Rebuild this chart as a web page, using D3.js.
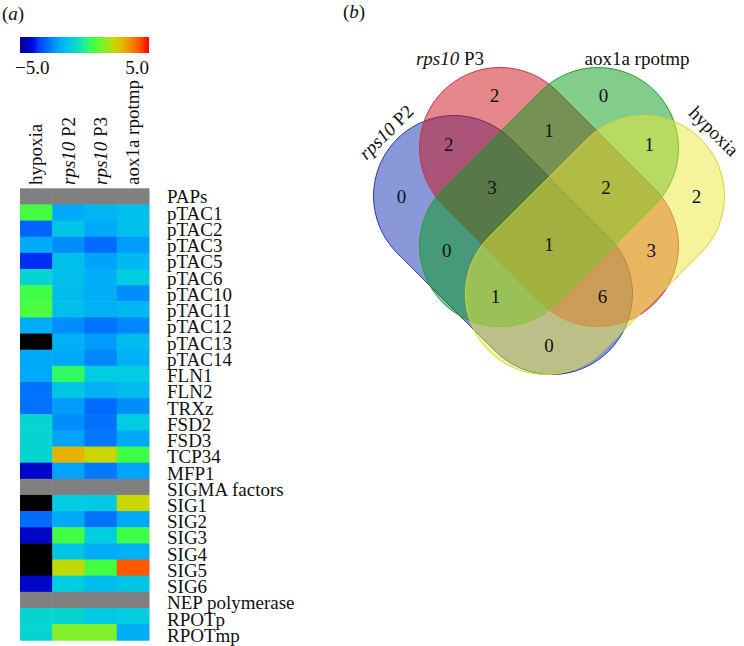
<!DOCTYPE html>
<html><head><meta charset="utf-8">
<script src="https://cdn.jsdelivr.net/npm/d3@7"></script>
<style>
body{margin:0;background:#fff;}
text{font-family:"Liberation Serif","Times New Roman",serif;fill:#111;}
</style>
</head><body>
<script>
// ---------------- DATA ----------------
const conditions = ["hypoxia", "rps10 P2", "rps10 P3", "aox1a rpotmp"];
const genes = ["PAPs","pTAC1","pTAC2","pTAC3","pTAC5","pTAC6","pTAC10","pTAC11","pTAC12","pTAC13","pTAC14",
  "FLN1","FLN2","TRXz","FSD2","FSD3","TCP34","MFP1","SIGMA factors","SIG1","SIG2","SIG3","SIG4","SIG5","SIG6",
  "NEP polymerase","RPOTp","RPOTmp"];
const headerRows = ["PAPs","SIGMA factors","NEP polymerase"];
// log2 fold changes (null = group header row, NaN = no data)
const hypoxia = [null, 0.7,-3.0,-2.0,-3.7,-0.8, 0.6, 0.8,-1.9, NaN,-2.0,-2.0,-2.8,-2.8,-0.8,-0.8,-0.8,-4.3, null, NaN,-2.9,-4.3, NaN, NaN,-4.3, null,-0.8,-0.8];
const rps10P2 = [null,-2.0,-1.2,-2.4,-1.4,-1.4,-1.5,-1.4,-2.4,-1.8,-2.0, 0.4,-1.2,-2.2,-2.4,-2.1, 3.0,-2.1, null,-1.0,-2.0, 0.7,-1.2, 2.2,-1.0, null,-0.8, 1.5];
const rps10P3 = [null,-1.7,-2.0,-2.9,-2.1,-1.9,-1.9,-1.8,-2.8,-2.2,-2.5,-1.0,-1.8,-2.9,-2.8,-2.7, 2.3,-2.7, null,-1.1,-2.8,-1.0,-1.9, 0.7,-1.5, null,-1.1, 1.5];
const aox1aRpotmp = [null,-1.4,-1.4,-2.2,-1.6,-1.0,-2.4,-1.6,-2.5,-1.5,-1.8,-1.0,-1.5,-2.4,-1.0,-2.0, 0.6,-2.1, null, 2.3,-2.0, 0.6,-1.8, 4.2,-1.2, null,-1.0,-1.9];
const series = [hypoxia, rps10P2, rps10P3, aox1aRpotmp];
const colorDomain = [-5, 5];
const colorbarTicks = ["\u22125.0", "5.0"];

// Venn: sets A..D and counts per exclusive region
const vennSets = ["rps10 P2", "rps10 P3", "aox1a rpotmp", "hypoxia"];
const vennRegions = ["A","B","C","D","AB","BC","CD","AC","BD","AD","ABC","BCD","ACD","ABD","ABCD"];
const vennCounts  = [ 0,  2,  0,  2,  2,   1,   1,   0,   3,   0,   3,    2,    1,    6,    1 ];

// ---------------- STYLE / LAYOUT ----------------
const W = 744, H = 646;
const FONT = 19;
const rampStops = [-5,-4,-3.5,-3,-2,-1,0,0.6,1.5,2.3,3,4.2,5];
const rampColors = ["#00008c","#0008e0","#0046ff","#0064ff","#00aafa","#00cde0","#1ef096","#3cff46","#82f028","#c8d700","#e6b400","#ff5a00","#ff0000"];
const color = d3.scaleLinear().domain(rampStops).range(rampColors).clamp(true);

const svg = d3.select("body").append("svg").attr("width", W).attr("height", H)
  .style("background", "#fff");

function addLabel(sel, label) {
  const m = label.match(/^(rps10)(.*)$/);
  if (m) {
    sel.append("tspan").style("font-style", "italic").text(m[1]);
    sel.append("tspan").text(m[2]);
  } else sel.text(label);
}

// panel letters
svg.append("text").attr("x", 2).attr("y", 20).style("font-size", FONT + "px")
  .call(t => { t.append("tspan").text("("); t.append("tspan").style("font-style","italic").text("a"); t.append("tspan").text(")"); });
svg.append("text").attr("x", 343).attr("y", 18).style("font-size", FONT + "px")
  .call(t => { t.append("tspan").text("("); t.append("tspan").style("font-style","italic").text("b"); t.append("tspan").text(")"); });

// ---------------- HEATMAP ----------------
const x = d3.scaleBand().domain(conditions).range([20, 149]);
const y = d3.scaleBand().domain(genes).range([188.3, 188.3 + 28 * 16.14]);
const yLab = d3.scaleBand().domain(genes).range([188.3, 188.3 + 28 * 16.24]);

// colorbar
const defs = svg.append("defs");
const grad = defs.append("linearGradient").attr("id", "cbar");
rampStops.forEach((s, i) => grad.append("stop")
  .attr("offset", ((s - colorDomain[0]) / (colorDomain[1] - colorDomain[0]) * 100) + "%")
  .attr("stop-color", rampColors[i]));
const cbx = d3.scaleLinear().domain(colorDomain).range([20, 149]);
svg.append("rect").attr("x", cbx(colorDomain[0])).attr("y", 37)
  .attr("width", cbx(colorDomain[1]) - cbx(colorDomain[0])).attr("height", 16)
  .attr("fill", "url(#cbar)");
svg.append("text").attr("x", cbx(colorDomain[0]) - 5).attr("y", 74).style("font-size", FONT + "px").text(colorbarTicks[0]);
svg.append("text").attr("x", cbx(colorDomain[1])).attr("y", 74).attr("text-anchor", "end").style("font-size", FONT + "px").text(colorbarTicks[1]);

// column labels
conditions.forEach(c => {
  const t = svg.append("text")
    .attr("transform", `translate(${x(c) + x.bandwidth() / 2},185) rotate(-90)`)
    .attr("dy", "0.33em").style("font-size", FONT + "px");
  addLabel(t, c);
});

// cells
const cells = [];
genes.forEach((g, i) => conditions.forEach((c, j) => cells.push({ g, c, v: series[j][i] })));
svg.append("g").selectAll("rect").data(cells).join("rect")
  .attr("x", d => x(d.c)).attr("y", d => y(d.g))
  .attr("width", x.bandwidth() + 0.5).attr("height", y.bandwidth() + 0.5)
  .attr("fill", d => headerRows.includes(d.g) ? "#808080" : (d.v === null || isNaN(d.v)) ? "#000" : color(d.v));

// row labels
svg.append("g").selectAll("text").data(genes).join("text")
  .attr("x", 167).attr("y", d => yLab(d) + yLab.bandwidth() / 2 + 7)
  .style("font-size", FONT + "px").text(d => d);

// ---------------- VENN ----------------
const vc = { x: 549, yInner: 197, yOuter: 245, dxOuter: 46, half: 49, r: 80.5 };
const shapes = [
  { set: "A", cx: vc.x - vc.dxOuter, cy: vc.yOuter, dir: 1,  fill: "rgb(20,50,180)",  stroke: "#2a3aa8" },
  { set: "B", cx: vc.x,              cy: vc.yInner, dir: 1,  fill: "rgb(205,15,25)",  stroke: "#c43a3a" },
  { set: "C", cx: vc.x,              cy: vc.yInner, dir: -1, fill: "rgb(5,155,25)",   stroke: "#2c9a2c" },
  { set: "D", cx: vc.x + vc.dxOuter, cy: vc.yOuter, dir: -1, fill: "rgb(235,231,55)", stroke: "#d8d430" }
];
shapes.forEach(s => {
  s.a = [s.cx - s.dir * vc.half, s.cy - vc.half];
  s.b = [s.cx + s.dir * vc.half, s.cy + vc.half];
});
function stadiumPath(s) {
  const r = vc.r;
  const dx = s.b[0] - s.a[0], dy = s.b[1] - s.a[1], L = Math.hypot(dx, dy);
  const u = [dx / L, dy / L], n = [-u[1], u[0]];
  const an = Math.atan2(n[1], n[0]);
  const p = d3.path();
  p.moveTo(s.a[0] + r * n[0], s.a[1] + r * n[1]);
  p.lineTo(s.b[0] + r * n[0], s.b[1] + r * n[1]);
  p.arc(s.b[0], s.b[1], r, an, an - Math.PI, true);
  p.lineTo(s.a[0] - r * n[0], s.a[1] - r * n[1]);
  p.arc(s.a[0], s.a[1], r, an - Math.PI, an - 2 * Math.PI, true);
  p.closePath();
  return p.toString();
}
svg.append("g").selectAll("path").data(shapes).join("path")
  .attr("d", stadiumPath).attr("fill", d => d.fill).attr("fill-opacity", 0.5)
  .attr("stroke", d => d.stroke).attr("stroke-width", 1);

// region label positions: mean of the most interior points of each region
function sd(p, s) {
  const ax = s.a[0], ay = s.a[1], bx = s.b[0], by = s.b[1];
  const vx = bx - ax, vy = by - ay;
  let t = ((p[0] - ax) * vx + (p[1] - ay) * vy) / (vx * vx + vy * vy);
  t = Math.max(0, Math.min(1, t));
  return Math.hypot(p[0] - (ax + t * vx), p[1] - (ay + t * vy)) - vc.r;
}
const pts = {};
for (let px = 360; px <= 740; px += 1) {
  for (let py = 60; py <= 385; py += 1) {
    let key = "", clr = Infinity;
    shapes.forEach(s => { const d = sd([px, py], s); if (d < 0) key += s.set; clr = Math.min(clr, Math.abs(d)); });
    if (!key) continue;
    (pts[key] = pts[key] || []).push([px, py, clr]);
  }
}
const best = {};
Object.keys(pts).forEach(k => {
  const arr = pts[k];
  const mx = d3.max(arr, p => p[2]);
  const top = arr.filter(p => p[2] >= 0.85 * mx);
  best[k] = { x: d3.mean(top, p => p[0]), y: d3.mean(top, p => p[1]) };
});
const regionLabels = vennRegions.map((k, i) => ({ k, n: vennCounts[i], pos: best[k] })).filter(d => d.pos);
svg.append("g").selectAll("text").data(regionLabels).join("text")
  .attr("x", d => d.pos.x).attr("y", d => d.pos.y).attr("dy", "0.35em")
  .attr("text-anchor", "middle").style("font-size", FONT + "px").text(d => d.n);

// set labels
const setLabelPos = [
  { tr: "translate(386,132) rotate(-45)" },
  { tr: "translate(450,58)" },
  { tr: "translate(637,58)" },
  { tr: "translate(714,131) rotate(45)" }
];
vennSets.forEach((name, i) => {
  const t = svg.append("text").attr("transform", setLabelPos[i].tr)
    .attr("text-anchor", "middle").attr("dy", "0.35em").style("font-size", FONT + "px");
  addLabel(t, name);
});
</script>
</body></html>
